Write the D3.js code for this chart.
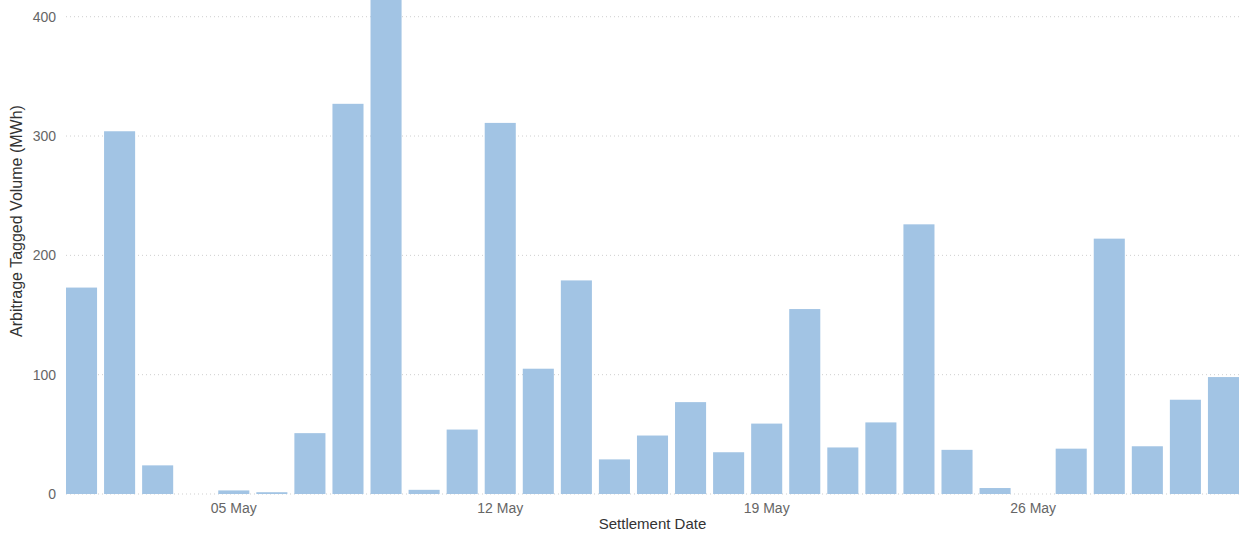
<!DOCTYPE html>
<html><head><meta charset="utf-8">
<script src="https://cdn.jsdelivr.net/npm/d3@7"></script>
<style>
html,body{margin:0;padding:0;background:#fff;}
svg{display:block;font-family:"Liberation Sans",Arial,sans-serif;}
</style></head>
<body>
<svg id="chart" width="1239" height="536"></svg>
<script>
const dates = ["2024-05-01","2024-05-02","2024-05-03","2024-05-04","2024-05-05","2024-05-06","2024-05-07","2024-05-08","2024-05-09","2024-05-10","2024-05-11","2024-05-12","2024-05-13","2024-05-14","2024-05-15","2024-05-16","2024-05-17","2024-05-18","2024-05-19","2024-05-20","2024-05-21","2024-05-22","2024-05-23","2024-05-24","2024-05-25","2024-05-26","2024-05-27","2024-05-28","2024-05-29","2024-05-30","2024-05-31"];
const volumes = [173,304,24,0,3,1.5,51,327,440,3.5,54,311,105,179,29,49,77,35,59,155,39,60,226,37,5,0,38,214,40,79,98];
const yTicks = [0,100,200,300,400];
const xTickDates = ["2024-05-05","2024-05-12","2024-05-19","2024-05-26"];
const xTitle = "Settlement Date";
const yTitle = "Arbitrage Tagged Volume (MWh)";

(function(){
const svg = d3.select("#chart");
const mLeft = 66, mRight = 1239, mTop = 0, mBottom = 494;
const parse = d3.timeParse("%Y-%m-%d");
const fmt = d3.timeFormat("%d %b");

const x = d3.scaleBand().domain(dates).range([mLeft, mRight]).paddingInner(0.184).paddingOuter(0);
const y = d3.scaleLinear().domain([0, 414]).range([mBottom, mTop]);

svg.append("g").selectAll("line").data(yTicks).join("line")
  .attr("x1", mLeft).attr("x2", mRight)
  .attr("y1", d => y(d)).attr("y2", d => y(d))
  .attr("stroke", "#cfcfcf").attr("stroke-width", 1)
  .attr("stroke-dasharray", "1,3");

svg.append("g").selectAll("rect").data(dates).join("rect")
  .attr("x", d => x(d))
  .attr("width", x.bandwidth())
  .attr("y", (d,i) => y(volumes[i]))
  .attr("height", (d,i) => y(0) - y(volumes[i]))
  .attr("fill", "#a2c4e4");

const yAxis = svg.append("g").attr("transform", `translate(${mLeft},0)`)
  .call(d3.axisLeft(y).tickValues(yTicks).tickSize(0).tickPadding(10).tickFormat(d3.format("d")));
yAxis.select(".domain").remove();
yAxis.selectAll("text").attr("font-size", 14).attr("fill", "#666").attr("font-family", "Liberation Sans, Arial, sans-serif");

const xAxis = svg.append("g").attr("transform", `translate(0,${mBottom})`)
  .call(d3.axisBottom(x).tickValues(xTickDates).tickSize(0).tickPadding(9).tickFormat(d => fmt(parse(d))));
xAxis.select(".domain").remove();
xAxis.selectAll("text").attr("font-size", 14).attr("fill", "#666").attr("font-family", "Liberation Sans, Arial, sans-serif");

svg.append("text").attr("x", (mLeft + mRight) / 2).attr("y", 529)
  .attr("text-anchor", "middle").attr("font-size", 15).attr("fill", "#333").text(xTitle);
svg.append("text").attr("transform", `translate(22,221) rotate(-90)`)
  .attr("text-anchor", "middle").attr("font-size", 16).attr("fill", "#333").text(yTitle);
})();
</script>
</body></html>
